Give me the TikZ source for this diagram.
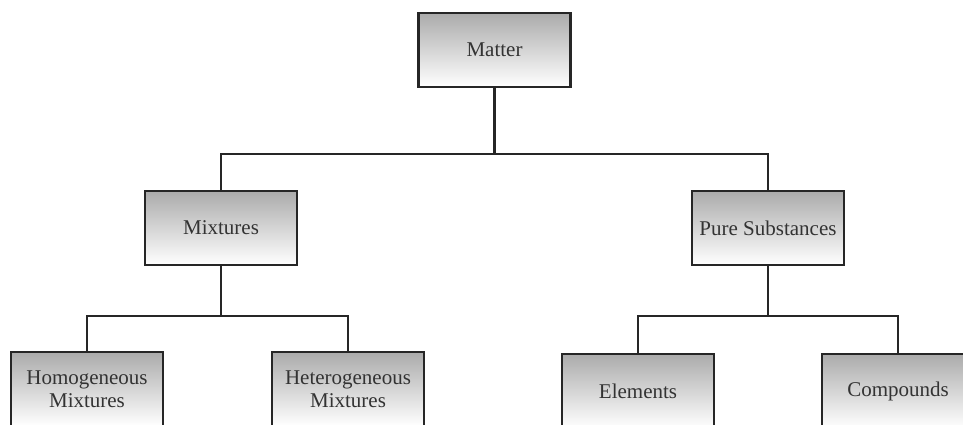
\documentclass[tikz,border=0pt]{standalone}
\usepackage{fontspec}
\setmainfont{Liberation Serif}

\begin{document}
\begin{tikzpicture}[x=1pt,y=-1pt,
        every node/.style={rectangle,draw=black!85,line width=2.4pt,
            top color=black!33,bottom color=white,
            minimum width=152pt,minimum height=74pt,inner sep=0pt,
            align=center,text=black!80,
            font=\fontsize{21}{23}\selectfont},
        link/.style={draw=black!85,line width=2.2pt}]
    \useasboundingbox (0,0) rectangle (963,424);
    \node (matter) at (494.5,50) {Matter};
    \node (mix) at (221,228) {Mixtures};
    \node (pure) at (768,228) {Pure Substances};
    \node (homo) at (87,389) {Homogeneous\\Mixtures};
    \node (hetero) at (348,389) {Heterogeneous\\Mixtures};
    \node (elem) at (638,391) {Elements};
    \node (comp) at (898,391) {Compounds};

    \draw[link] (matter.south) -- ++(0,66) -| (mix.north);
    \draw[link] (matter.south) -- ++(0,66) -| (pure.north);
    \draw[link] (mix.south) -- ++(0,50) -| (homo.north);
    \draw[link] (mix.south) -- ++(0,50) -| (hetero.north);
    \draw[link] (pure.south) -- ++(0,50) -| (elem.north);
    \draw[link] (pure.south) -- ++(0,50) -| (comp.north);
\end{tikzpicture}
\end{document}
